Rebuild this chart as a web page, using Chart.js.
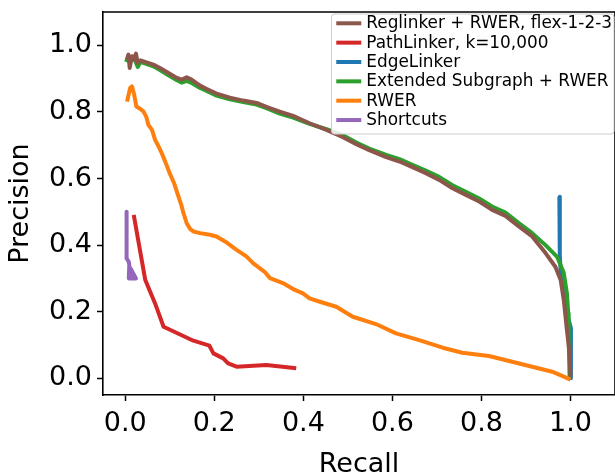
<!DOCTYPE html>
<html><head><meta charset="utf-8">
<script src="https://cdn.jsdelivr.net/npm/chart.js@4.4.0/dist/chart.umd.min.js"></script>
<style>html,body{margin:0;padding:0;background:#fff;overflow:hidden}</style>
</head><body>
<canvas id="c" width="615" height="476"></canvas>
<script>
// ---- data ----
const seriesLabels = ['Reglinker + RWER, flex-1-2-3','PathLinker, k=10,000','EdgeLinker','Extended Subgraph + RWER','RWER','Shortcuts'];
const seriesColors = ['#8c564b','#d62728','#1f77b4','#2ca02c','#ff7f0e','#9467bd'];

const reglinkerRecall = [0.004,0.007,0.010,0.015,0.019,0.024,0.028,0.034,0.041,0.063,0.078,0.097,0.116,0.127,0.138,0.149,0.168,0.183,0.205,0.235,0.265,0.295,0.317,0.347,0.377,0.414,0.452,0.489,0.519,0.548,0.586,0.616,0.645,0.675,0.705,0.735,0.765,0.795,0.824,0.854,0.884,0.914,0.944,0.966,0.978,0.985,0.992,0.998,1.000];
const reglinkerPrecision = [0.957,0.972,0.932,0.967,0.957,0.975,0.947,0.955,0.952,0.942,0.932,0.917,0.902,0.897,0.904,0.897,0.879,0.869,0.855,0.843,0.834,0.827,0.815,0.801,0.788,0.766,0.746,0.724,0.703,0.685,0.664,0.651,0.634,0.616,0.596,0.571,0.551,0.531,0.506,0.488,0.456,0.426,0.376,0.335,0.295,0.235,0.145,0.075,0.005];

const pathlinkerRecall = [0.019,0.045,0.067,0.086,0.153,0.189,0.198,0.220,0.231,0.250,0.317,0.384];
const pathlinkerPrecision = [0.491,0.295,0.225,0.155,0.113,0.098,0.075,0.060,0.045,0.035,0.040,0.030];

const edgelinkerRecall = [0.975,0.976,0.978,0.985,0.993,1.001,1.001];
const edgelinkerPrecision = [0.545,0.370,0.320,0.260,0.190,0.150,0.000];

const extendedRecall = [0.002,0.006,0.012,0.020,0.028,0.034,0.063,0.078,0.097,0.116,0.127,0.138,0.149,0.168,0.183,0.205,0.235,0.265,0.295,0.317,0.347,0.377,0.414,0.452,0.489,0.519,0.548,0.586,0.616,0.645,0.675,0.705,0.735,0.765,0.795,0.824,0.854,0.884,0.914,0.944,0.970,0.985,0.992,0.995,0.996,0.998];
const extendedPrecision = [0.950,0.965,0.955,0.962,0.935,0.950,0.937,0.926,0.910,0.895,0.888,0.893,0.887,0.872,0.863,0.849,0.838,0.830,0.822,0.811,0.795,0.783,0.764,0.748,0.730,0.708,0.690,0.671,0.658,0.641,0.624,0.605,0.580,0.560,0.540,0.516,0.498,0.466,0.436,0.400,0.365,0.316,0.255,0.195,0.115,0.005];

const rwerRecall = [0.004,0.011,0.015,0.020,0.025,0.034,0.041,0.047,0.052,0.060,0.067,0.075,0.082,0.090,0.100,0.110,0.119,0.126,0.131,0.138,0.146,0.153,0.168,0.190,0.205,0.224,0.250,0.272,0.287,0.313,0.325,0.354,0.377,0.399,0.414,0.437,0.474,0.511,0.563,0.608,0.660,0.713,0.757,0.817,0.869,0.914,0.959,0.985,1.000];
const rwerPrecision = [0.831,0.872,0.877,0.852,0.816,0.809,0.801,0.786,0.761,0.746,0.716,0.696,0.676,0.650,0.615,0.585,0.548,0.520,0.495,0.466,0.448,0.441,0.436,0.431,0.426,0.411,0.386,0.366,0.346,0.320,0.301,0.286,0.268,0.255,0.240,0.230,0.215,0.185,0.163,0.135,0.115,0.092,0.077,0.067,0.050,0.035,0.020,0.005,-0.004];

const shortcutsRecall = [0.003,0.003,0.008,0.009,0.008,0.024,0.012,0.010,0.016];
const shortcutsPrecision = [0.500,0.360,0.350,0.340,0.300,0.300,0.330,0.310,0.310];

const xTicks = [0.0,0.2,0.4,0.6,0.8,1.0];
const yTicks = [0.0,0.2,0.4,0.6,0.8,1.0];

// ---- build ----
function pts(xs, ys){ return xs.map((x,i)=>({x:x, y:ys[i]})); }
const seriesData = [
  pts(reglinkerRecall, reglinkerPrecision),
  pts(pathlinkerRecall, pathlinkerPrecision),
  pts(edgelinkerRecall, edgelinkerPrecision),
  pts(extendedRecall, extendedPrecision),
  pts(rwerRecall, rwerPrecision),
  pts(shortcutsRecall, shortcutsPrecision)
];
const drawOrder = [3,1,5,4,2,0]; // lower = drawn on top

const FONT = '"DejaVu Sans", "Liberation Sans", sans-serif';
Chart.defaults.font.family = FONT;
Chart.defaults.color = '#000';

const framePlugin = {
  id: 'frame',
  afterDatasetsDraw(chart){
    const {ctx, chartArea:a} = chart;
    ctx.save();
    ctx.strokeStyle = '#000';
    ctx.lineWidth = 1.6;
    ctx.beginPath();
    ctx.moveTo(a.left, a.top); ctx.lineTo(a.right, a.top); ctx.lineTo(a.right, a.bottom);
    ctx.stroke();
    ctx.restore();
  }
};

const legendPlugin = {
  id: 'boxLegend',
  afterDatasetsDraw(chart){
    const {ctx, chartArea:a} = chart;
    const ds = chart.data.datasets;
    ctx.save();
    ctx.font = '16.9px ' + FONT;
    let maxW = 0;
    ds.forEach(d => { maxW = Math.max(maxW, ctx.measureText(d.label).width); });
    const padL = 4.7, handle = 25, gap = 5, padR = 2;
    const w = padL + handle + gap + maxW + padR;
    const right = 614;
    const left = right - w;
    const top = a.top + 2;
    const rowH = 19.35;
    const h = 120;
    ctx.beginPath();
    ctx.roundRect(left, top, w, h, 3);
    ctx.fillStyle = 'rgba(255,255,255,0.85)';
    ctx.fill();
    ctx.strokeStyle = '#cccccc';
    ctx.lineWidth = 1;
    ctx.stroke();
    ds.forEach((d, i) => {
      const y = top + 9.3 + i*rowH;
      ctx.beginPath();
      ctx.moveTo(left + padL, y); ctx.lineTo(left + padL + handle, y);
      ctx.strokeStyle = d.borderColor; ctx.lineWidth = 4; ctx.lineCap = 'butt';
      ctx.stroke();
      ctx.fillStyle = '#000';
      ctx.textBaseline = 'middle';
      ctx.textAlign = 'left';
      ctx.fillText(d.label, left + padL + handle + gap, y + 0.5);
    });
    ctx.restore();
  }
};

new Chart(document.getElementById('c'), {
  type: 'scatter',
  data: {
    datasets: seriesLabels.map((lab, i) => ({
      label: lab,
      data: seriesData[i],
      showLine: true,
      borderColor: seriesColors[i],
      backgroundColor: seriesColors[i],
      borderWidth: 4,
      pointRadius: 0,
      pointHoverRadius: 0,
      tension: 0,
      borderJoinStyle: 'round',
      borderCapStyle: 'butt',
      order: drawOrder[i]
    }))
  },
  options: {
    responsive: false,
    animation: false,
    layout: { padding: { top: 12, right: -2, bottom: 0, left: 0 } },
    plugins: { legend: { display: false }, tooltip: { enabled: false } },
    scales: {
      x: {
        type: 'linear', min: -0.05, max: 1.1,
        afterBuildTicks: s => { s.ticks = xTicks.map(v => ({value: v})); },
        afterFit: s => { s.height = 81; s.paddingLeft = 0; s.paddingRight = 0; },
        ticks: { font: { size: 27 }, color: '#000', padding: 7, maxRotation: 0, autoSkip: false,
                 callback: v => Number(v).toFixed(1) },
        grid: { drawOnChartArea: false, drawTicks: true, tickLength: 6, tickColor: '#000', tickWidth: 1.5 },
        border: { display: true, color: '#000', width: 1.6 },
        title: { display: true, text: 'Recall', font: { size: 27 }, color: '#000', padding: { top: 0, bottom: -5 } }
      },
      y: {
        type: 'linear', min: -0.05, max: 1.1,
        afterBuildTicks: s => { s.ticks = yTicks.map(v => ({value: v})); },
        afterFit: s => { s.width = 103; s.paddingTop = 0; s.paddingBottom = 0; },
        ticks: { font: { size: 27 }, color: '#000', padding: 5, autoSkip: false,
                 callback: v => Number(v).toFixed(1) },
        grid: { drawOnChartArea: false, drawTicks: true, tickLength: 6, tickColor: '#000', tickWidth: 1.5 },
        border: { display: true, color: '#000', width: 1.6 },
        title: { display: true, text: 'Precision', font: { size: 27 }, color: '#000', padding: { top: 5, bottom: 0 } }
      }
    }
  },
  plugins: [framePlugin, legendPlugin]
});
</script>
</body></html>
